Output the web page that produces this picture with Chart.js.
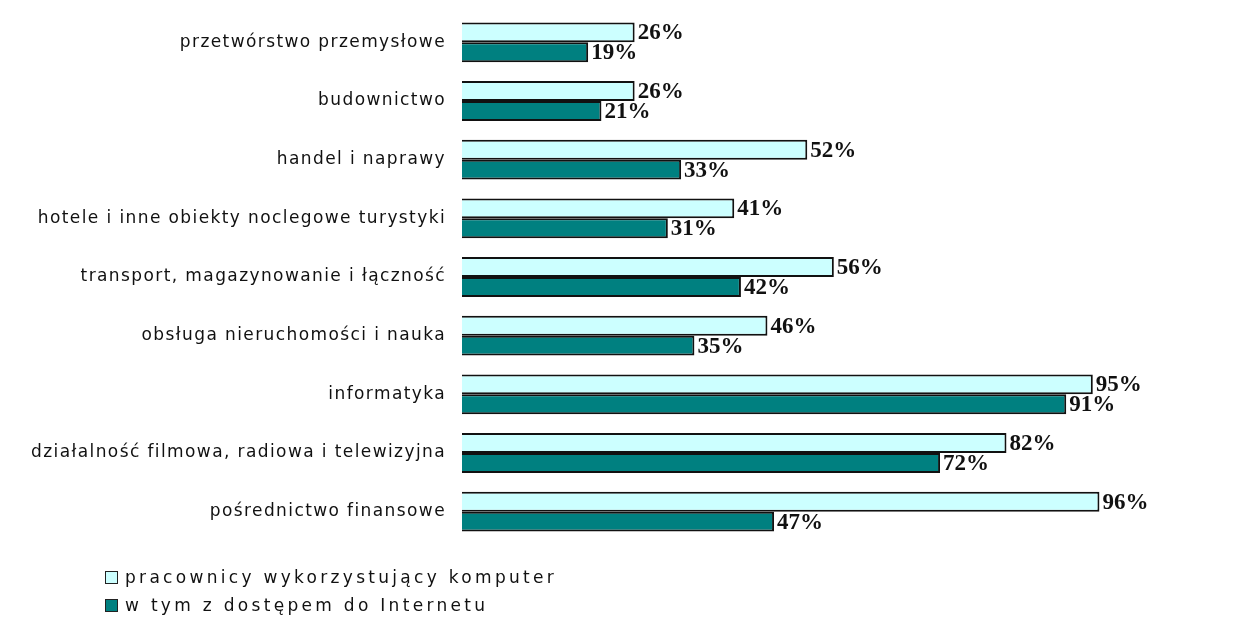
<!DOCTYPE html>
<html>
<head>
<meta charset="utf-8">
<script src="https://cdn.jsdelivr.net/npm/chart.js@4"></script>
<style>
  html, body { margin: 0; padding: 0; background: #ffffff; }
  #wrap { position: relative; width: 1251px; height: 623px; }
  #legendContainer { position: absolute; left: 105px; top: 563px; }
  .listContainer { list-style: none; margin: 0; padding: 0; }
  .legendElement { display: flex; align-items: center; height: 28px; }
  .boxSpan { display: inline-block; width: 11px; height: 11px; border: 1px solid #222; margin-right: 7px; }
  .textElement { margin: 0; font-family: "DejaVu Sans", sans-serif; font-size: 17px; letter-spacing: 3.3px; color: #111; }
</style>
</head>
<body>
<div id="wrap">
  <canvas id="bar_chart" width="1251" height="623"></canvas>
  <div id="legendContainer"></div>
</div>
<script>
const categories = [
  'przetwórstwo przemysłowe',
  'budownictwo',
  'handel i naprawy',
  'hotele i inne obiekty noclegowe turystyki',
  'transport, magazynowanie i łączność',
  'obsługa nieruchomości i nauka',
  'informatyka',
  'działalność filmowa, radiowa i telewizyjna',
  'pośrednictwo finansowe'
];
const seriesNames = ['pracownicy wykorzystujący komputer', 'w tym z dostępem do Internetu'];
const computerUsers = [26, 26, 52, 41, 56, 46, 95, 82, 96];
const internetUsers = [19, 21, 33, 31, 42, 35, 91, 72, 47];
const seriesColors = ['#ccffff', '#008080'];

// letter spacing for the category labels (scale draws before datasets)
const labelSpacing = {
  id: 'labelSpacing',
  beforeDraw(chart) { chart.ctx.letterSpacing = '1.4px'; },
  beforeDatasetsDraw(chart) { chart.ctx.letterSpacing = '0px'; }
};

const percentLabels = {
  id: 'percentLabels',
  afterDatasetsDraw(chart) {
    const { ctx } = chart;
    ctx.save();
    ctx.font = 'bold 23px "Liberation Serif", serif';
    ctx.fillStyle = '#111';
    ctx.textAlign = 'left';
    ctx.textBaseline = 'middle';
    chart.data.datasets.forEach((ds, i) => {
      chart.getDatasetMeta(i).data.forEach((bar, j) => {
        ctx.fillText(ds.data[j] + '%', bar.x + 3, bar.y + 1);
      });
    });
    ctx.restore();
  }
};

const htmlLegend = {
  id: 'htmlLegend',
  afterUpdate(chart, args, options) {
    const box = document.getElementById(options.containerID);
    let ul = box.querySelector('ul');
    if (!ul) {
      ul = document.createElement('ul');
      ul.className = 'listContainer';
      box.appendChild(ul);
    }
    while (ul.firstChild) ul.firstChild.remove();
    chart.data.datasets.forEach(ds => {
      const li = document.createElement('li');
      li.className = 'legendElement';
      const sq = document.createElement('span');
      sq.className = 'boxSpan';
      sq.style.backgroundColor = ds.backgroundColor;
      const p = document.createElement('p');
      p.className = 'textElement';
      p.textContent = ds.label;
      li.appendChild(sq);
      li.appendChild(p);
      ul.appendChild(li);
    });
  }
};

const bar_chart = new Chart(document.getElementById('bar_chart'), {
  type: 'bar',
  data: {
    labels: categories,
    datasets: [
      { label: seriesNames[0], data: computerUsers, backgroundColor: seriesColors[0], borderColor: '#111', borderWidth: 2 },
      { label: seriesNames[1], data: internetUsers, backgroundColor: seriesColors[1], borderColor: '#111', borderWidth: 2 }
    ]
  },
  options: {
    indexAxis: 'y',
    responsive: false,
    animation: false,
    layout: { padding: { top: 13, bottom: 82, left: 0, right: 125 } },
    categoryPercentage: 0.68,
    barPercentage: 1,
    plugins: {
      legend: { display: false },
      tooltip: { enabled: false },
      htmlLegend: { containerID: 'legendContainer' }
    },
    scales: {
      x: { min: 0, max: 100, display: false },
      y: {
        afterFit(scale) {
          scale.width = 462;
          scale.paddingTop = 0;
          scale.paddingBottom = 0;
        },
        border: { display: false },
        grid: { display: false, drawTicks: false },
        ticks: {
          color: '#111',
          padding: 16,
          font: { family: '"DejaVu Sans", sans-serif', size: 17 }
        }
      }
    }
  },
  plugins: [labelSpacing, percentLabels, htmlLegend]
});
</script>
</body>
</html>
